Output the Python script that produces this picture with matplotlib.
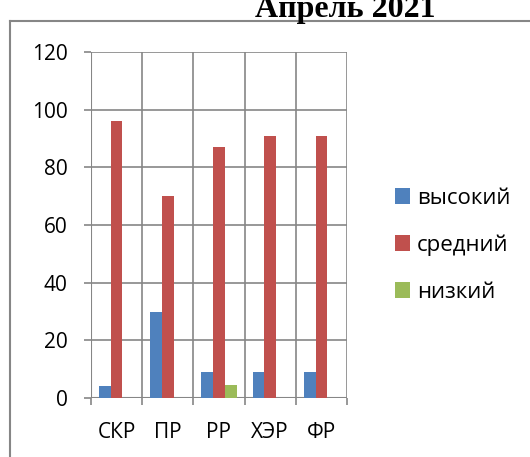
import matplotlib.pyplot as plt
from matplotlib.lines import Line2D
import numpy as np

plt.rcParams['font.family'] = ['Open Sans', 'DejaVu Sans']

# data
categories = ['СКР', 'ПР', 'РР', 'ХЭР', 'ФР']
series = ['высокий', 'средний', 'низкий']
high = [4, 30, 9, 9, 9]
mid = [96, 70, 87, 91, 91]
low = [0, 0, 4.5, 0, 0]
colors = ['#4F81BD', '#C0504D', '#9BBB59']

W, H = 530, 457
fig = plt.figure(figsize=(W / 100, H / 100), dpi=100)
ax = fig.add_axes([91 / W, 1 - 398 / H, (347 - 91) / W, (398 - 52) / H])

x = np.arange(len(categories))
bw = 0.23
for i, (vals, c, name) in enumerate(zip([high, mid, low], colors, series)):
    ax.bar(x + (i - 1) * bw, vals, bw, color=c, label=name, zorder=3)

ax.set_xlim(-0.5, len(categories) - 0.5)
ax.set_ylim(0, 120)
ax.set_yticks(range(0, 121, 20))
ax.set_xticks(np.arange(-0.5, len(categories), 1.0))
ax.set_xticklabels([])
ax.set_xticks(x, minor=True)
ax.set_xticklabels(categories, minor=True)
ax.tick_params(axis='x', which='minor', length=0, pad=17, labelsize=15)
ax.tick_params(axis='x', which='major', length=5, width=1.2, color='#868686')
ax.tick_params(axis='y', length=5, width=1.2, color='#868686', pad=12, labelsize=15)

ax.grid(True, which='major', color='#868686', linewidth=1.2, zorder=0)
for s in ax.spines.values():
    s.set_visible(False)
ax.axvline(-0.5, color='#868686', lw=1.5, zorder=1)
ax.axhline(0, color='#868686', lw=1.5, zorder=1)

ax.legend(loc='upper left', bbox_to_anchor=(386 / W, 1 - 179 / H),
          bbox_transform=fig.transFigure, frameon=False, fontsize=16,
          handlelength=0.7, handleheight=0.7, handletextpad=0.3,
          labelspacing=1.15, borderaxespad=0)

# outer chart frame
fig.add_artist(Line2D([10 / W, 10 / W], [0, 1 - 21 / H], color='#868686', lw=1.5))
fig.add_artist(Line2D([10 / W, 1], [1 - 21 / H, 1 - 21 / H], color='#868686', lw=1.5))

# title is clipped by the top edge, as in the source
fig.text(345 / W, 1 - 17 / H, 'Апрель 2021', ha='center', va='baseline',
         fontsize=23, fontweight='bold', family='Liberation Serif')

fig.savefig('out.png', dpi=100)
